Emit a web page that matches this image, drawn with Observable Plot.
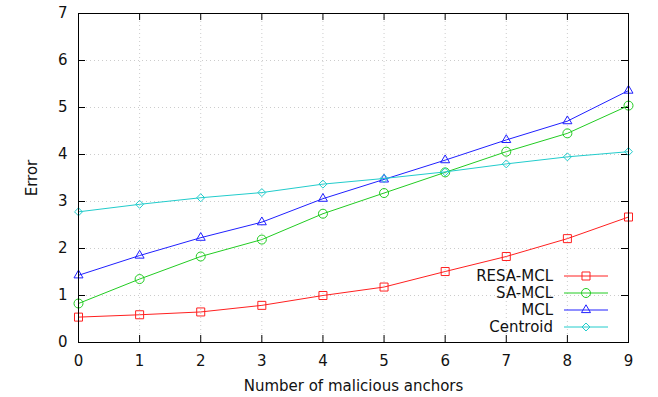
<!DOCTYPE html>
<html>
<head>
<meta charset="utf-8">
<script src="https://cdn.jsdelivr.net/npm/d3@7"></script>
<script src="https://cdn.jsdelivr.net/npm/@observablehq/plot@0.6"></script>
<style>
  html, body { margin: 0; padding: 0; background: #fff; }
  svg { display: block; }
  svg text { font-family: 'DejaVu Sans', sans-serif !important; font-size: 15px !important; }
</style>
</head>
<body>
<div id="chart"></div>
<script>
const anchors = [0, 1, 2, 3, 4, 5, 6, 7, 8, 9];
const resaMcl  = [0.54, 0.59, 0.65, 0.79, 1.00, 1.18, 1.51, 1.83, 2.21, 2.67];
const saMcl    = [0.83, 1.35, 1.83, 2.19, 2.74, 3.18, 3.62, 4.06, 4.45, 5.04];
const mcl      = [1.43, 1.85, 2.23, 2.56, 3.06, 3.47, 3.88, 4.31, 4.71, 5.36];
const centroid = [2.78, 2.94, 3.08, 3.19, 3.37, 3.49, 3.63, 3.80, 3.95, 4.06];

const seriesNames = ["RESA-MCL", "SA-MCL", "MCL", "Centroid"];
const seriesValues = [resaMcl, saMcl, mcl, centroid];
const seriesColors = ["#ff2020", "#22cc22", "#2020ff", "#22cccc"];
const seriesSymbols = ["square2", "circle", "triangle2", "diamond2"];
const seriesR = [5.1, 4.5, 4.3, 3.6];

const xTicks = [0, 1, 2, 3, 4, 5, 6, 7, 8, 9];
const yTicks = [0, 1, 2, 3, 4, 5, 6, 7];
const xTitle = "Number of malicious anchors";
const yTitle = "Error";

const FONT = "'DejaVu Sans', sans-serif";
const W = 658, H = 397;
const mL = 78, mR = 30, mT = 13, mB = 55;
const plotW = W - mL - mR, plotH = H - mT - mB;
const tickLen = 7;

const marks = [];
marks.push(Plot.gridX(xTicks.slice(1, -1), {stroke: "#cccccc", strokeOpacity: 1, strokeDasharray: "1,3"}));
marks.push(Plot.gridY(yTicks.slice(1, -1), {stroke: "#cccccc", strokeOpacity: 1, strokeDasharray: "1,3"}));
marks.push(Plot.axisX(xTicks, {tickSize: 0, tickPadding: 13, label: null, fontSize: 15, fill: "#111"}));
marks.push(Plot.axisY(yTicks, {tickSize: 0, tickPadding: 11, label: null, fontSize: 15, fill: "#111"}));
marks.push(Plot.ruleX(xTicks, {x: d => d, insetTop: plotH - tickLen, stroke: "#000"}));
marks.push(Plot.ruleX(xTicks, {x: d => d, insetBottom: plotH - tickLen, stroke: "#000"}));
marks.push(Plot.ruleY(yTicks, {y: d => d, insetRight: plotW - tickLen, stroke: "#000"}));
marks.push(Plot.ruleY(yTicks, {y: d => d, insetLeft: plotW - tickLen, stroke: "#000"}));

seriesValues.forEach((vals, i) => {
  const data = anchors.map((a, j) => ({a, v: vals[j]}));
  marks.push(Plot.line(data, {x: "a", y: "v", stroke: seriesColors[i], strokeWidth: 1}));
  marks.push(Plot.dot(data, {x: "a", y: "v", stroke: seriesColors[i], fill: "none", symbol: seriesSymbols[i], r: seriesR[i], strokeWidth: 1}));
});

marks.push((index, scales, values, dims) => {
  const g = d3.create("svg:g");
  const right = dims.width - dims.marginRight;
  const bottom = dims.height - dims.marginBottom;
  seriesNames.forEach((name, i) => {
    const y = bottom - 66 + i * 17;
    g.append("text")
      .attr("x", right - 75).attr("y", y)
      .attr("text-anchor", "end").attr("dy", "0.35em")
      .attr("fill", "#111")
      .text(name);
    g.append("line")
      .attr("x1", right - 64).attr("x2", right - 20)
      .attr("y1", y).attr("y2", y)
      .attr("stroke", seriesColors[i]).attr("stroke-width", 1);
    const sym = {square2: d3.symbolSquare2, circle: d3.symbolCircle, triangle2: d3.symbolTriangle2, diamond2: d3.symbolDiamond2}[seriesSymbols[i]];
    g.append("path")
      .attr("transform", `translate(${right - 42},${y})`)
      .attr("d", d3.symbol(sym, Math.PI * seriesR[i] * seriesR[i])())
      .attr("fill", "none").attr("stroke", seriesColors[i]);
  });
  return g.node();
});

marks.push(Plot.text([xTitle], {text: d => d, frameAnchor: "bottom", lineAnchor: "middle", textAnchor: "middle", dy: 44, fill: "#111"}));
marks.push(Plot.text([yTitle], {text: d => d, frameAnchor: "left", lineAnchor: "middle", textAnchor: "middle", dx: -46, rotate: -90, fill: "#111"}));

marks.push(Plot.frame({stroke: "#000", strokeWidth: 1}));

const chart = Plot.plot({
  width: W, height: H,
  marginLeft: mL, marginRight: mR, marginTop: mT, marginBottom: mB,
  style: {fontFamily: FONT, fontSize: "15px", background: "#fff", color: "#000"},
  x: {domain: [0, 9], axis: null},
  y: {domain: [0, 7], axis: null},
  marks
});
document.getElementById("chart").appendChild(chart);
</script>
</body>
</html>
